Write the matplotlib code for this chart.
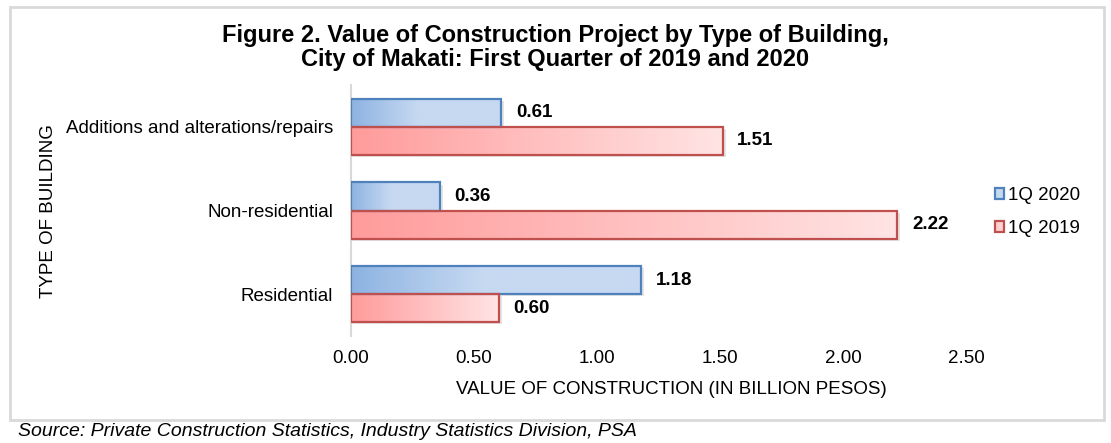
import matplotlib.pyplot as plt
import numpy as np
from matplotlib.colors import LinearSegmentedColormap
from matplotlib.patches import Rectangle

plt.rcParams["font.family"] = ["Liberation Sans", "DejaVu Sans"]

categories = ["Residential", "Non-residential", "Additions and alterations/repairs"]
values_2020 = [1.18, 0.36, 0.61]
values_2019 = [0.60, 2.22, 1.51]
series_names = ["1Q 2020", "1Q 2019"]
x_ticks = [0.0, 0.5, 1.0, 1.5, 2.0, 2.5]

blue_cmap = LinearSegmentedColormap.from_list(
    "blue", [(0, "#8db3e2"), (0.45, "#c6d9f1"), (1, "#c6d9f1")])
red_cmap = LinearSegmentedColormap.from_list("red", ["#ff9b9b", "#ffe4e4"])
blue_edge = "#4f81bd"
red_edge = "#c0504d"
fs = 13.5


def gradient_bar(ax, y, width, height, cmap, edge):
    shadow = Rectangle((0, y - 0.025), width + 0.012, height, facecolor="#000000",
                       alpha=0.10, edgecolor="none", zorder=1)
    ax.add_patch(shadow)
    rect = Rectangle((0, y), width, height, facecolor="none", edgecolor=edge,
                     linewidth=1.6, zorder=3)
    ax.add_patch(rect)
    grad = np.linspace(0, 1, 256).reshape(1, -1)
    im = ax.imshow(grad, cmap=cmap, aspect="auto", extent=(0, width, y, y + height),
                   zorder=2, interpolation="bicubic")
    im.set_clip_path(rect)


fig = plt.figure(figsize=(11.11, 4.43), dpi=100)
ax = fig.add_axes([0.316, 0.2415, 0.5536, 0.5666])

h = 0.335
ypos = np.arange(len(categories))
for i in ypos:
    gradient_bar(ax, i, values_2020[i], h, blue_cmap, blue_edge)
    gradient_bar(ax, i - h, values_2019[i], h, red_cmap, red_edge)
    ax.text(values_2020[i] + 0.06, i + h / 2, f"{values_2020[i]:.2f}", va="center",
            ha="left", fontsize=fs, fontweight="bold")
    ax.text(values_2019[i] + 0.06, i - h / 2, f"{values_2019[i]:.2f}", va="center",
            ha="left", fontsize=fs, fontweight="bold")

ax.set_xlim(0, 2.5)
ax.set_ylim(-0.5, 2.5)
ax.set_xticks(x_ticks)
ax.set_xticklabels([f"{t:.2f}" for t in x_ticks], fontsize=fs)
ax.set_yticks(ypos)
ax.set_yticklabels(categories, fontsize=fs)
ax.tick_params(axis="both", length=0)
ax.tick_params(axis="x", pad=10)
ax.tick_params(axis="y", pad=13)
for side in ["top", "right", "bottom"]:
    ax.spines[side].set_visible(False)
ax.spines["left"].set_color("#d9d9d9")
ax.spines["left"].set_linewidth(1.5)

fig.text(0.604, 0.12, "VALUE OF CONSTRUCTION (IN BILLION PESOS)", fontsize=fs,
         ha="center", va="center")
fig.text(0.044, 0.524, "TYPE OF BUILDING", rotation=90, fontsize=fs,
         ha="center", va="center")

fig.text(0.50, 0.892, "Figure 2. Value of Construction Project by Type of Building,\n"
         "City of Makati: First Quarter of 2019 and 2020", ha="center", va="center",
         fontsize=17, fontweight="bold", linespacing=1.05)

handles = [
    Rectangle((0, 0), 1, 1, facecolor="#c6d9f1", edgecolor=blue_edge, linewidth=1.6),
    Rectangle((0, 0), 1, 1, facecolor="#ffd0d0", edgecolor=red_edge, linewidth=1.6),
]
fig.legend(handles, series_names, loc="center left", bbox_to_anchor=(0.887, 0.521),
           frameon=False, fontsize=fs, handlelength=0.5, handleheight=0.5,
           handletextpad=0.2, labelspacing=0.85, borderpad=0)

border = Rectangle((0.009, 0.052), 0.985, 0.932, transform=fig.transFigure,
                   facecolor="none", edgecolor="#d9d9d9", linewidth=2)
fig.add_artist(border)
fig.text(0.016, 0.025, "Source: Private Construction Statistics, Industry Statistics Division, PSA",
         fontsize=14, style="italic", ha="left", va="center")

fig.savefig("out.png", dpi=100)
